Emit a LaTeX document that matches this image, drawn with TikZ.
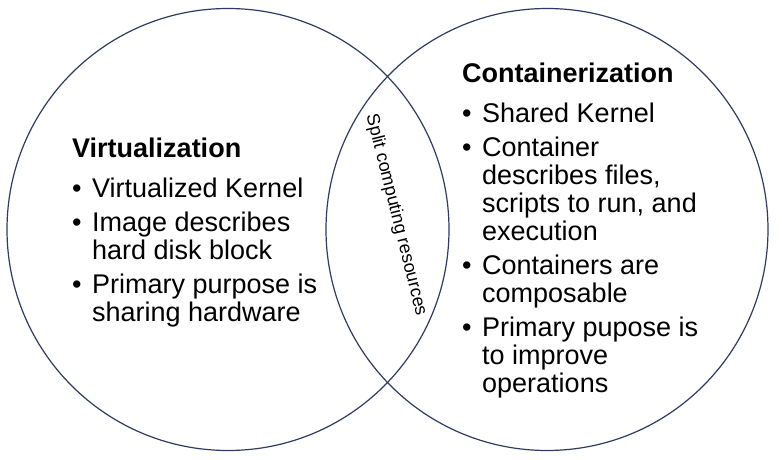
\documentclass[tikz,border=0pt]{standalone}
\usepackage{fontspec}
\setmainfont{Liberation Sans}
\usetikzlibrary{positioning}
\definecolor{ringcol}{HTML}{2F3B62}
\newcommand{\bitem}[1]{\par\prevdepth=0pt\noindent\makebox[20pt][l]{\textbullet}\parbox[t]{260pt}{\spaceskip=0pt\relax\xspaceskip=0pt\relax\baselineskip=28pt\relax #1\par\kern-\prevdepth}}

\begin{document}
\begin{tikzpicture}[x=1pt, y=-1pt,
    ring/.style={circle, draw=ringcol, line width=1.2pt, inner sep=0pt, minimum size=442pt},
    block/.style={anchor=base west, inner sep=0pt, text width=300pt,
        execute at begin node={\fontsize{27}{28}\selectfont\spaceskip=0pt\relax\xspaceskip=0pt\relax\setlength{\parskip}{6pt}}}]
    \useasboundingbox (0,0) rectangle (782,460);

    %Circles
    \node[ring] (virt) at (228,229.5) {};
    \node[ring] (cont) at (547,229.5) {};

    %Overlap label
    \node[font=\fontsize{18}{20}\selectfont, rotate=-76,
        execute at begin node={\spaceskip=0pt\relax}] (split) at (396,215) {Split computing resources};

    %Left list
    \node[block] (virtlist) at (72,157) {{\bfseries Virtualization}\par\vspace{6pt}
        \bitem{Virtualized Kernel}
        \bitem{Image describes\\hard disk block}
        \bitem{Primary purpose is\\sharing hardware}};

    %Right list
    \node[block] (contlist) at (462,82) {{\bfseries Containerization}\par\vspace{6pt}
        \bitem{Shared Kernel}
        \bitem{Container\\describes files,\\scripts to run, and\\execution}
        \bitem{Containers are\\composable}
        \bitem{Primary pupose is\\to improve\\operations}};

\end{tikzpicture}
\end{document}
